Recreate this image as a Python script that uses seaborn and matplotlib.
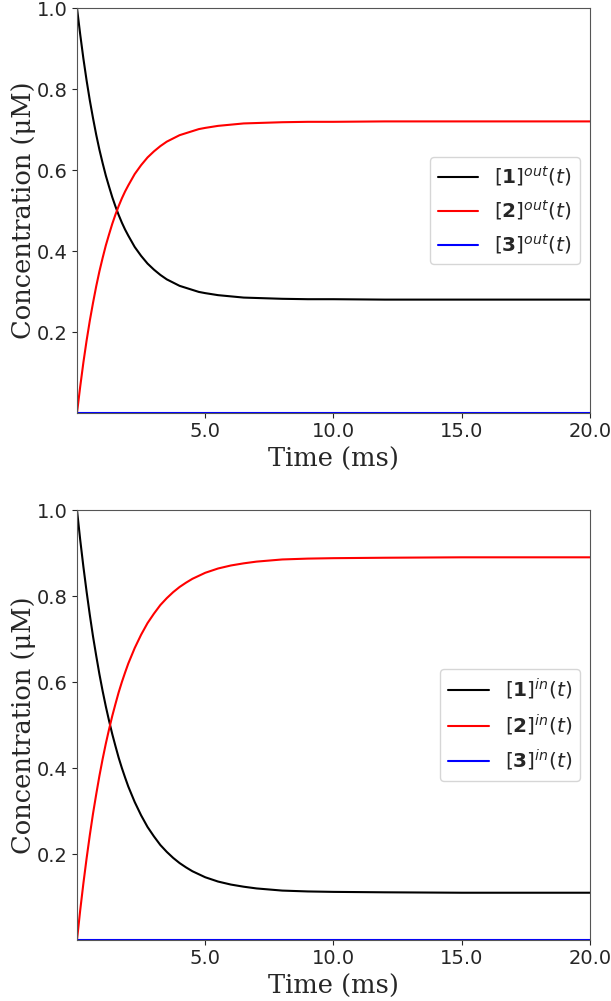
import numpy as np
import pandas as pd
import matplotlib
matplotlib.use("Agg")
import matplotlib.pyplot as plt
import seaborn as sns

# time points (ms)
time_ms = [0.0, 0.125, 0.25, 0.375, 0.5, 0.625, 0.75, 0.875, 1.0, 1.125, 1.25, 1.375,
           1.5, 1.625, 1.75, 1.875, 2.0, 2.25, 2.5, 2.75, 3.0, 3.25, 3.5, 3.75,
           4.0, 4.25, 4.5, 4.75, 5.0, 5.5, 6.0, 6.5, 7.0, 8.0, 9.0, 10.0, 12.0, 15.0, 20.0]

# outside concentrations (uM)
c1_out = [1.000, 0.935, 0.875, 0.821, 0.772, 0.728, 0.687, 0.650, 0.617, 0.586, 0.559, 0.533,
          0.510, 0.489, 0.470, 0.453, 0.438, 0.410, 0.388, 0.369, 0.354, 0.341, 0.330, 0.322,
          0.314, 0.309, 0.304, 0.299, 0.296, 0.291, 0.288, 0.285, 0.284, 0.282, 0.281, 0.281,
          0.280, 0.280, 0.280]
c2_out = [0.000, 0.065, 0.125, 0.179, 0.228, 0.272, 0.313, 0.350, 0.383, 0.414, 0.441, 0.467,
          0.490, 0.511, 0.530, 0.547, 0.562, 0.590, 0.612, 0.631, 0.646, 0.659, 0.670, 0.678,
          0.686, 0.691, 0.696, 0.701, 0.704, 0.709, 0.712, 0.715, 0.716, 0.718, 0.719, 0.719,
          0.720, 0.720, 0.720]
c3_out = [0.0] * len(time_ms)

# inside concentrations (uM)
c1_in = [1.000, 0.931, 0.868, 0.810, 0.756, 0.706, 0.661, 0.618, 0.579, 0.543, 0.510, 0.479,
         0.451, 0.424, 0.400, 0.378, 0.357, 0.321, 0.290, 0.263, 0.241, 0.221, 0.205, 0.191,
         0.179, 0.169, 0.160, 0.153, 0.146, 0.136, 0.129, 0.124, 0.120, 0.115, 0.113, 0.112,
         0.111, 0.110, 0.110]
c2_in = [0.000, 0.069, 0.132, 0.190, 0.244, 0.294, 0.339, 0.382, 0.421, 0.457, 0.490, 0.521,
         0.549, 0.576, 0.600, 0.622, 0.643, 0.679, 0.710, 0.737, 0.759, 0.779, 0.795, 0.809,
         0.821, 0.831, 0.840, 0.847, 0.854, 0.864, 0.871, 0.876, 0.880, 0.885, 0.887, 0.888,
         0.889, 0.890, 0.890]
c3_in = [0.0] * len(time_ms)

colors = ["black", "red", "blue"]

sns.set_style("ticks")
plt.rcParams['font.family'] = ['DejaVu Sans']
plt.rcParams['mathtext.fontset'] = 'dejavusans'

fig = plt.figure(figsize=(6.11, 10.01), dpi=100)
# the two panels are not the same height in the original
ax_top = fig.add_axes([0.126, 0.5874, 0.8396, 0.4046])
ax_bot = fig.add_axes([0.126, 0.0609, 0.8396, 0.4296])


def draw_panel(ax, series, tag):
    for vals, col, num in zip(series, colors, [1, 2, 3]):
        df = pd.DataFrame({"t": time_ms, "c": vals})
        sns.lineplot(data=df, x="t", y="c", color=col, ax=ax, linewidth=1.5,
                     label=r"$[\mathbf{%d}]^{%s}(t)$" % (num, tag))
    ax.set_xlim(0, 20)
    ax.set_ylim(0, 1.0)
    ax.set_xticks([5, 10, 15, 20])
    ax.set_xticklabels(["5.0", "10.0", "15.0", "20.0"])
    ax.set_yticks([0.2, 0.4, 0.6, 0.8, 1.0])
    ax.set_yticklabels(["0.2", "0.4", "0.6", "0.8", "1.0"])
    ax.tick_params(labelsize=14, pad=3)
    ax.set_xlabel("Time (ms)", family="DejaVu Serif", fontsize=18.5, labelpad=4)
    ax.set_ylabel("Concentration (\u03bcM)", family="DejaVu Serif", fontsize=18.5, labelpad=1)
    for s in ax.spines.values():
        s.set_color("#555555")
    ax.legend(loc="center right", fontsize=14.5, handlelength=2.0)


draw_panel(ax_top, [c1_out, c2_out, c3_out], "out")
draw_panel(ax_bot, [c1_in, c2_in, c3_in], "in")

fig.savefig("out.png", dpi=100)
